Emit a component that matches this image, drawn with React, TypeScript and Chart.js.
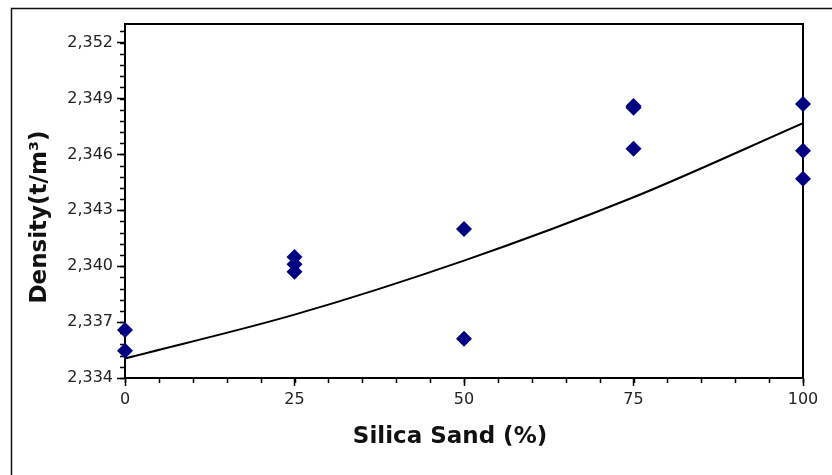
import React, { useEffect, useRef } from "react";
import { Chart, registerables } from "chart.js";

Chart.register(...registerables);

// ---- data ----
const sandPercent = [0, 0, 25, 25, 25, 50, 50, 75, 75, 75, 100, 100, 100];
const densityValues = [
  2.33657, 2.33546, 2.3405, 2.3401, 2.3397, 2.342, 2.3361, 2.3486, 2.3485, 2.3463, 2.3487, 2.3462,
  2.3447,
];
const trendX = [0, 25, 50, 75, 100];
const trendY = [2.33505, 2.3374, 2.3403, 2.3437, 2.34768];

const yTickValues = [2.334, 2.337, 2.34, 2.343, 2.346, 2.349, 2.352];
const xTickValues = [0, 25, 50, 75, 100];
const yMin = 2.334;
const yMax = 2.353;
const yMinorStep = 0.0006;
const xMinorStep = 5;

const xTitle = "Silica Sand (%)";
const yTitle = "Density(t/m³)";

const FONT = "'DejaVu Sans', Verdana, sans-serif";

const decorPlugin = {
  id: "decor",
  beforeDatasetsDraw(chart: any) {
    const { ctx, chartArea } = chart;
    const xs = chart.scales.x;
    const ys = chart.scales.y;
    ctx.save();
    // outer frame
    ctx.strokeStyle = "#111";
    ctx.lineWidth = 1.5;
    ctx.strokeRect(11.5, 8.5, 1000, 1000);
    // plot box
    ctx.strokeStyle = "#000";
    ctx.lineWidth = 2;
    ctx.strokeRect(chartArea.left, chartArea.top, chartArea.right - chartArea.left, chartArea.bottom - chartArea.top);
    // minor ticks
    ctx.lineWidth = 1.5;
    ctx.beginPath();
    for (let v = xs.min; v <= xs.max + 1e-9; v += xMinorStep) {
      const px = Math.round(xs.getPixelForValue(v)) + 0.5;
      ctx.moveTo(px, chartArea.bottom);
      ctx.lineTo(px, chartArea.bottom + 5);
    }
    for (let k = 0; yMin + k * yMinorStep <= ys.max + 1e-9; k++) {
      const v = yMin + k * yMinorStep;
      const py = Math.round(ys.getPixelForValue(v)) + 0.5;
      ctx.moveTo(chartArea.left, py);
      ctx.lineTo(chartArea.left - 5, py);
    }
    ctx.stroke();
    ctx.restore();
  },
  afterDraw(chart: any) {
    const { ctx } = chart;
    ctx.save();
    ctx.fillStyle = "#111";
    ctx.font = `bold 23px ${FONT}`;
    ctx.textAlign = "center";
    ctx.textBaseline = "middle";
    ctx.fillText(xTitle, 450, 437);
    ctx.translate(40, 217);
    ctx.rotate(-Math.PI / 2);
    ctx.fillText(yTitle, 0, 0);
    ctx.restore();
  },
};

export default function App() {
  const canvasRef = useRef<HTMLCanvasElement | null>(null);

  useEffect(() => {
    if (!canvasRef.current) return;
    const scatterData = sandPercent.map((x, i) => ({ x, y: densityValues[i] }));
    const trendData = trendX.map((x, i) => ({ x, y: trendY[i] }));
    const chart = new Chart(canvasRef.current, {
      type: "scatter",
      data: {
        datasets: [
          {
            label: "Density",
            data: scatterData,
            pointStyle: "rectRot",
            pointRadius: 8,
            pointHoverRadius: 8,
            backgroundColor: "#000080",
            borderColor: "#000080",
            borderWidth: 0,
            clip: false,
            order: 1,
          } as any,
          {
            label: "Trend",
            type: "line",
            data: trendData,
            showLine: true,
            borderColor: "#000",
            borderWidth: 2,
            pointRadius: 0,
            cubicInterpolationMode: "monotone",
            fill: false,
            order: 2,
          } as any,
        ],
      },
      options: {
        responsive: false,
        animation: false,
        layout: { padding: { left: 0, top: 24, right: 29, bottom: 0 } },
        plugins: {
          legend: { display: false },
          tooltip: { enabled: false },
          title: { display: false },
        },
        scales: {
          x: {
            type: "linear",
            min: 0,
            max: 100,
            afterFit(scale: any) {
              scale.height = 97;
            },
            afterBuildTicks(scale: any) {
              scale.ticks = xTickValues.map((v) => ({ value: v }));
            },
            ticks: {
              autoSkip: false,
              maxRotation: 0,
              padding: 4,
              color: "#222",
              font: { family: FONT, size: 16 },
            },
            grid: {
              drawOnChartArea: false,
              drawTicks: true,
              tickLength: 8,
              tickColor: "#000",
              tickWidth: 1.5,
            },
            border: { display: true, color: "#000", width: 2 },
            title: { display: false },
          },
          y: {
            type: "linear",
            min: yMin,
            max: yMax,
            afterFit(scale: any) {
              scale.width = 125;
            },
            afterBuildTicks(scale: any) {
              scale.ticks = yTickValues.map((v) => ({ value: v }));
            },
            ticks: {
              autoSkip: false,
              padding: 4,
              color: "#222",
              font: { family: FONT, size: 16 },
              callback: (v: any) => Number(v).toFixed(3).replace(".", ","),
            },
            grid: {
              drawOnChartArea: false,
              drawTicks: true,
              tickLength: 8,
              tickColor: "#000",
              tickWidth: 1.5,
            },
            border: { display: true, color: "#000", width: 2 },
            title: { display: false },
          },
        },
      },
      plugins: [decorPlugin],
    });
    return () => chart.destroy();
  }, []);

  return (
    <div style={{ position: "fixed", left: 0, top: 0, width: 832, height: 475, background: "#fff" }}>
      <canvas ref={canvasRef} width={832} height={475} style={{ display: "block" }} />
    </div>
  );
}
